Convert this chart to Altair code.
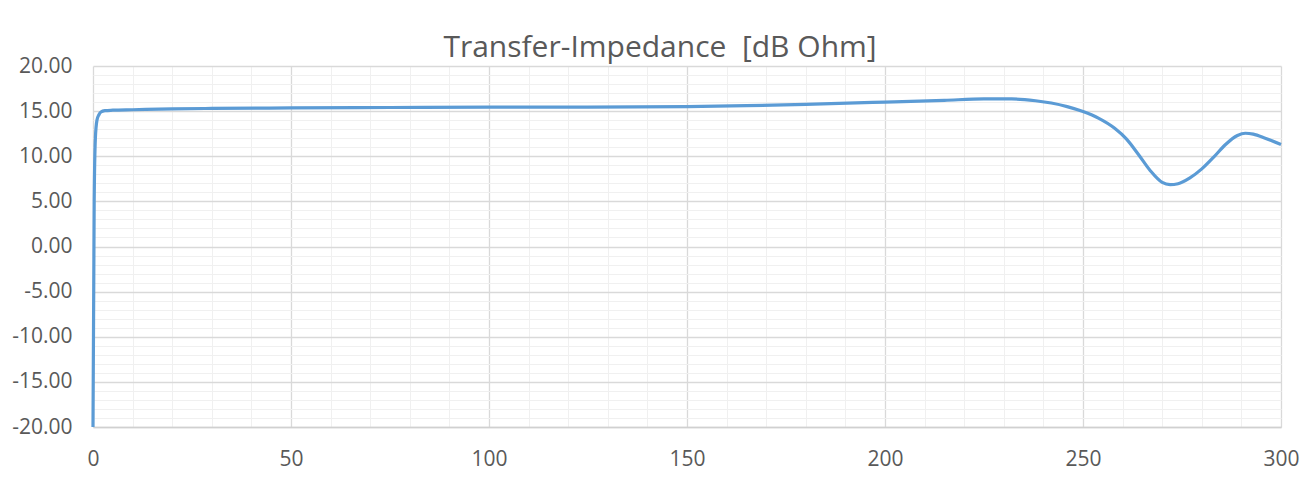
import altair as alt
import pandas as pd

freq = [0, 0.3, 0.6, 1, 1.5, 2, 3, 5, 10, 20, 30, 50, 75, 100, 125, 150, 165, 180,
        200, 215, 225, 232, 238, 242, 246, 250, 254, 258, 261, 264, 267, 270, 272,
        274, 277, 280, 283, 286, 289, 291, 293, 296, 300]
impedance = [-20, 5, 12, 14.0, 14.6, 14.9, 15.05, 15.1, 15.15, 15.25, 15.3, 15.35, 15.4,
             15.45, 15.45, 15.5, 15.6, 15.75, 16.0, 16.2, 16.35, 16.35, 16.15, 15.9, 15.5,
             14.95, 14.2, 13.1, 11.9, 10.2, 8.4, 7.1, 6.85, 6.95, 7.6, 8.6, 9.9, 11.3,
             12.3, 12.55, 12.45, 12.0, 11.3]

x_ticks = list(range(0, 301, 10))
y_ticks = list(range(-20, 21, 1))

df = pd.DataFrame({"f": freq, "z": impedance})

FONT = "Open Sans"
TXT = "#595959"

chart = alt.Chart(df).mark_line(
    color="#5B9BD5", strokeWidth=3.2, interpolate="monotone"
).encode(
    x=alt.X("f:Q", scale=alt.Scale(domain=[0, 300], nice=False, zero=False),
            axis=alt.Axis(values=x_ticks, title=None, ticks=False,
                          labelExpr="datum.value % 50 === 0 ? datum.label : ''",
                          labelFontSize=21, labelColor=TXT, labelFont=FONT,
                          labelPadding=21, labelFlush=False,
                          domain=True, domainColor="#d0d0d0", domainWidth=1.5,
                          gridColor={"condition": {"test": "datum.value % 50 === 0", "value": "#d9d9d9"},
                                     "value": "#f0f0f0"},
                          gridWidth={"condition": {"test": "datum.value % 50 === 0", "value": 1.3},
                                     "value": 1})),
    y=alt.Y("z:Q", scale=alt.Scale(domain=[-20, 20], nice=False, zero=False),
            axis=alt.Axis(values=y_ticks, title=None, ticks=False, domain=False,
                          format=".2f",
                          labelExpr="datum.value % 5 === 0 ? replace(datum.label, '\u2212', '-') : ''",
                          labelFontSize=21, labelColor=TXT, labelFont=FONT,
                          labelPadding=21, labelFlush=False,
                          gridColor={"condition": {"test": "datum.value % 5 === 0", "value": "#d9d9d9"},
                                     "value": "#f0f0f0"},
                          gridWidth={"condition": {"test": "datum.value % 5 === 0", "value": 1.3},
                                     "value": 1})),
).properties(
    width=1188, height=361,
    title=alt.TitleParams("Transfer-Impedance\u00a0\u00a0[dB Ohm]", fontSize=30, font=FONT,
                          fontWeight="normal", color=TXT, anchor="middle",
                          dx=-27, offset=-8),
    autosize=alt.AutoSizeParams(type="none"),
    padding={"left": 85, "top": 58, "right": 25, "bottom": 55},
).configure_view(stroke=None)

chart.save("out.html", embed_options={"renderer": "svg", "actions": False})
